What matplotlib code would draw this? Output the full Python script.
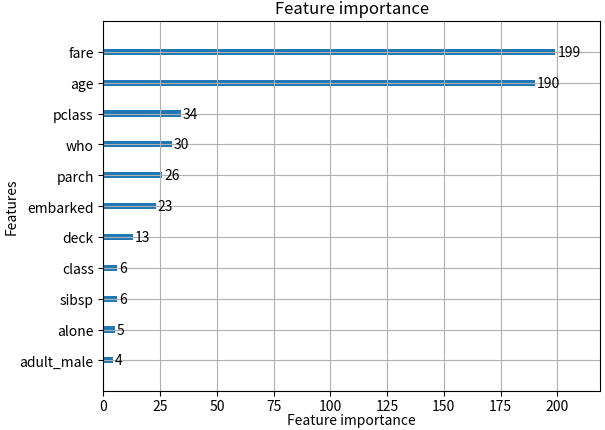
import matplotlib
matplotlib.use('Agg')
import matplotlib.pyplot as plt

plt.rcParams['font.family'] = ['Noto Sans CJK JP', 'DejaVu Sans']

# feature importance (split count)
features = ['adult_male', 'alone', 'sibsp', 'class', 'deck', 'embarked',
            'parch', 'who', 'pclass', 'age', 'fare']
importance = [4, 5, 6, 6, 13, 23, 26, 30, 34, 190, 199]

fig, ax = plt.subplots(figsize=(6.05, 4.31), dpi=100)
ylocs = range(len(features))
ax.barh(ylocs, importance, align='center', height=0.2)
for x, y in zip(importance, ylocs):
    ax.text(x + 1, y, str(x), va='center')
ax.set_yticks(list(ylocs))
ax.set_yticklabels(features)
ax.set_xlim(0, max(importance) * 1.1)
ax.set_ylim(-1, len(features))
ax.set_title('Feature importance')
ax.set_xlabel('Feature importance', labelpad=0)
ax.set_ylabel('Features', labelpad=1)
ax.tick_params(axis='x', pad=2)
ax.grid(True)
fig.subplots_adjust(left=0.171, right=0.992, top=0.949, bottom=0.09)
fig.savefig('out.png')
